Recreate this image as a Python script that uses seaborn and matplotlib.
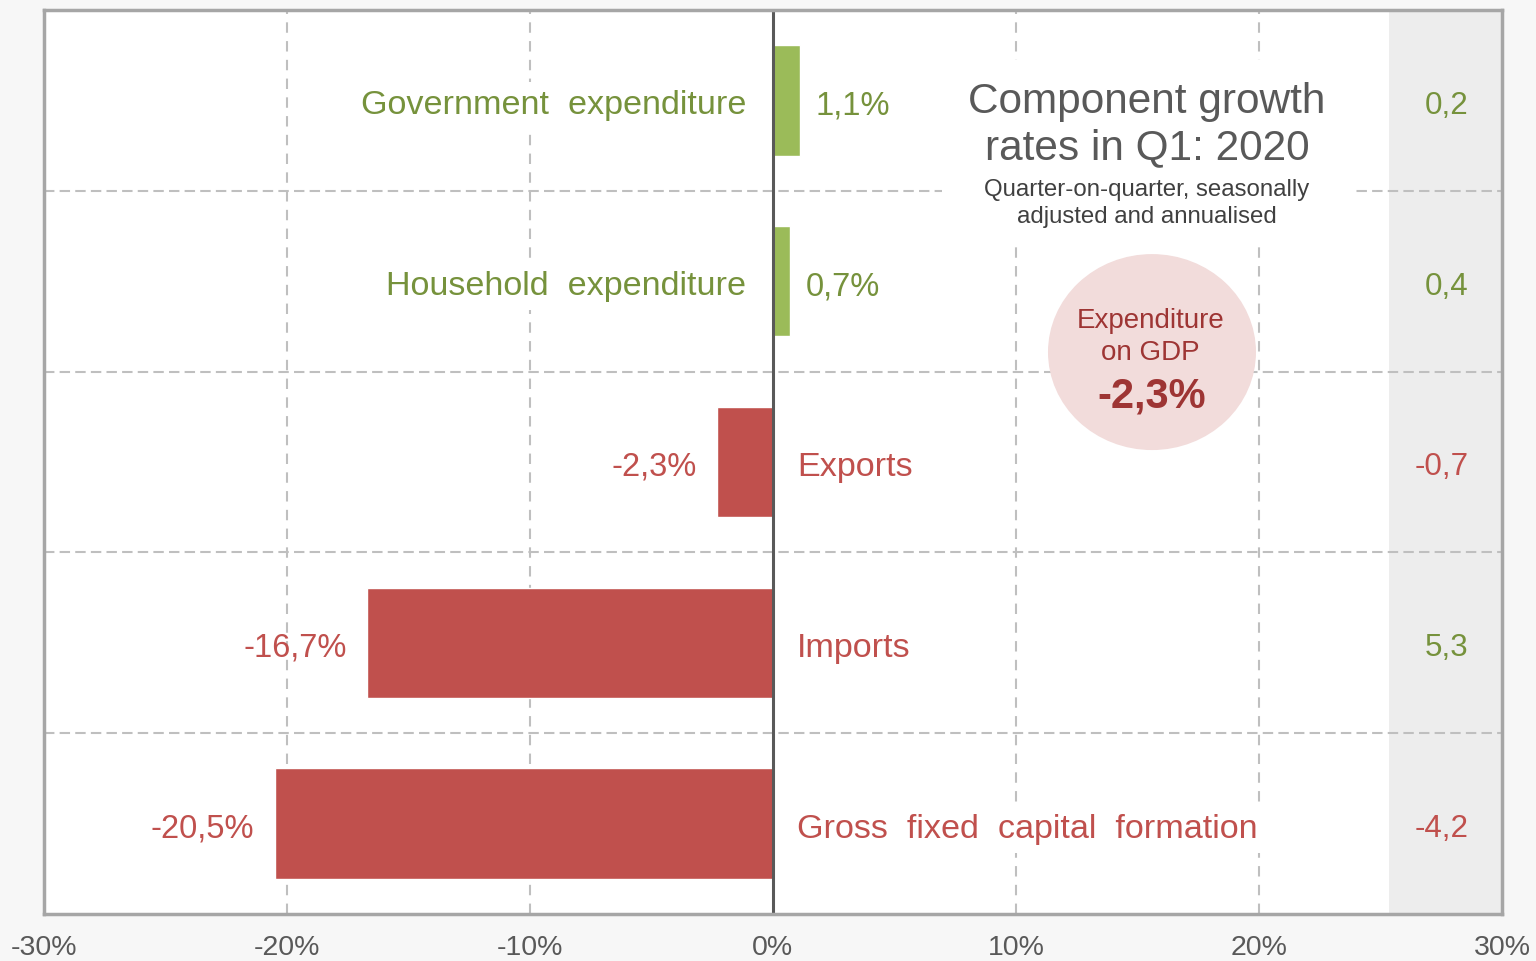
import matplotlib
matplotlib.use("Agg")
import matplotlib.pyplot as plt
import seaborn as sns
import pandas as pd
from matplotlib.patches import Ellipse, Rectangle

# Expenditure components of GDP, Q1 2020 (q/q, seasonally adjusted and annualised)
components = ["Government expenditure", "Household expenditure", "Exports",
              "Imports", "Gross fixed capital formation"]
growth = [1.1, 0.7, -2.3, -16.7, -20.5]          # growth rate, %
contribution = [0.2, 0.4, -0.7, 5.3, -4.2]       # contribution, percentage points
gdp_growth = -2.3
x_ticks = [-30, -20, -10, 0, 10, 20, 30]

GREEN_BAR, RED_BAR = "#9bbb59", "#c0504d"
GREEN_TXT, RED_TXT = "#76923c", "#c0504d"
GREY_TXT = "#595959"
TXT_DY = 0.03   # nudge labels so the glyphs sit visually centred on the bar


def comma(v, pct=True):
    s = f"{v:.1f}".replace(".", ",")
    return s + "%" if pct else s


df = pd.DataFrame({"component": components, "growth": growth,
                   "sign": ["pos" if g >= 0 else "neg" for g in growth]})

sns.set_theme(style="white")
plt.rcParams["font.family"] = ["Liberation Sans", "DejaVu Sans"]

fig = plt.figure(figsize=(15.36, 9.61), dpi=100, facecolor="#f7f7f7")
ax = fig.add_axes([0.0286, 0.0489, 0.9492, 0.9407])
ax.set_facecolor("white")

sns.barplot(data=df, x="growth", y="component", hue="sign", orient="h",
            palette={"pos": GREEN_BAR, "neg": RED_BAR}, width=0.61,
            dodge=False, legend=False, saturation=1, ax=ax, zorder=3)

ax.set_xlim(-30, 30)
ax.set_ylim(len(components) - 0.5, -0.5)

# shaded column holding the contributions
ax.axvspan(25.35, 30, color="#ededed", zorder=0, lw=0)

# dashed grid
for x in [-20, -10, 10, 20]:
    ax.axvline(x, color="#bfbfbf", lw=1.5, ls=(0, (5, 4)), zorder=1)
for y in [0.5, 1.5, 2.5, 3.5]:
    ax.axhline(y, color="#bfbfbf", lw=1.5, ls=(0, (5, 2.5)), zorder=1)
ax.axvline(0, color="#595959", lw=2.2, zorder=4)

# labels
for i, (name, g, c) in enumerate(zip(components, growth, contribution)):
    spaced = name.replace(" ", "  ")
    y = i + TXT_DY
    if g >= 0:
        ax.text(-1.1, y, spaced, ha="right", va="center", fontsize=24.6,
                color=GREEN_TXT, zorder=5,
                bbox=dict(facecolor="white", edgecolor="none", pad=6))
        ax.text(g + 0.67, y, comma(g), ha="left", va="center",
                fontsize=23.5, color=GREEN_TXT, zorder=5)
    else:
        ax.text(1.0, y, spaced, ha="left", va="center", fontsize=24.6,
                color=RED_TXT, zorder=5,
                bbox=dict(facecolor="white", edgecolor="none", pad=6))
        ax.text(g - 0.85, y, comma(g), ha="right", va="center",
                fontsize=23.5, color=RED_TXT, zorder=5)
    ax.text(28.64, y, comma(c, pct=False), ha="right", va="center",
            fontsize=22.6, color=GREEN_TXT if c >= 0 else RED_TXT, zorder=5)

# title block
ax.add_patch(Rectangle((0.616, 0.7434), 0.281, 0.2013, transform=ax.transAxes,
                       facecolor="white", edgecolor="none", zorder=2))
ax.text(15.39, 0.135, "Component growth\nrates in Q1: 2020", ha="center",
        va="center", fontsize=30.5, color=GREY_TXT, linespacing=1.2, zorder=5)
ax.text(15.39, 0.57, "Quarter-on-quarter, seasonally\nadjusted and annualised",
        ha="center", va="center", fontsize=17.3, color="#404040",
        linespacing=1.3, zorder=5)

# GDP bubble
ax.add_patch(Ellipse((15.6, 1.392), 8.56, 1.084, facecolor="#f2dcdb",
                     edgecolor="none", zorder=2))
ax.text(15.55, 1.31, "Expenditure\non GDP", ha="center", va="center",
        fontsize=20, color="#9e3534", linespacing=1.3, zorder=5)
ax.text(15.6, 1.64, comma(gdp_growth), ha="center", va="center",
        fontsize=30, fontweight="bold", color="#9e3534", zorder=5)

# axes styling
ax.set_xticks(x_ticks)
ax.set_xticklabels([f"{t}%" for t in x_ticks])
ax.set_yticks([])
ax.set_xlabel("")
ax.set_ylabel("")
ax.tick_params(axis="x", length=0, pad=15, labelsize=20.5, labelcolor=GREY_TXT)
for s in ax.spines.values():
    s.set_color("#a6a6a6")
    s.set_linewidth(2.5)
    s.set_visible(True)
    s.set_zorder(6)

fig.savefig("out.png", dpi=100, facecolor=fig.get_facecolor())
